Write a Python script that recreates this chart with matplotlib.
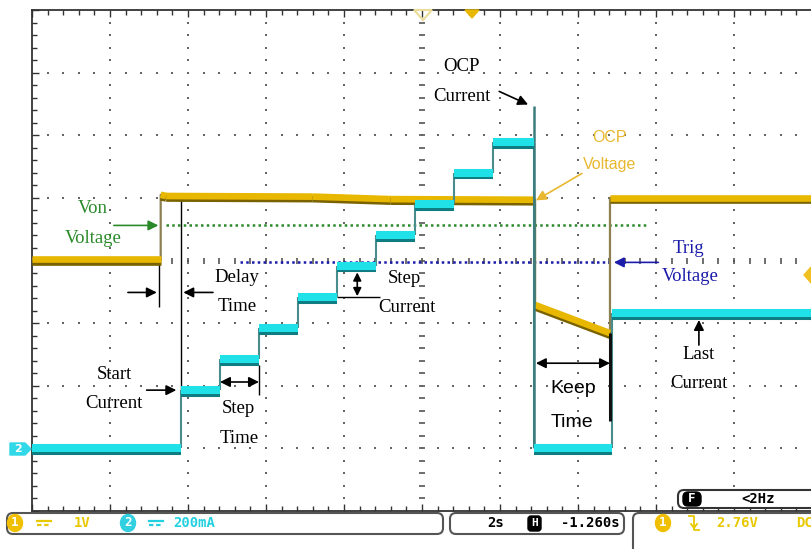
import numpy as np
import matplotlib
matplotlib.use("Agg")
import matplotlib.pyplot as plt
import matplotlib.patheffects as pe
from matplotlib.patches import FancyBboxPatch, Polygon, Ellipse

# Screen is 10 x 8 divisions (2 s/div, CH1 1 V/div, CH2 200 mA/div)
# CH1 voltage trace (divisions)
volt_t = [0, 1.65, 1.65, 1.72, 3.6, 4.6, 6.45, 6.45, 7.41, 7.41, 10]
volt_v = [4.02, 4.02, 5.05, 5.03, 5.02, 4.98, 4.97, 3.29, 2.84, 5.00, 5.00]

# CH2 current trace: level starts and values
step_t = [0, 1.91, 2.41, 2.91, 3.41, 3.91, 4.41, 4.91, 5.41, 5.91, 6.43, 7.44]
step_i = [1.0, 1.93, 2.42, 2.92, 3.41, 3.92, 4.40, 4.90, 5.40, 5.89, 1.0, 3.16]
t_end = 10
ocp_t = 6.43
ocp_peak = 6.46

# dotted reference levels
von_level = 4.56
von_span = [1.72, 7.87]
trig_level = 3.97
trig_span = [2.67, 7.42]

YEL = "#e8b800"
YEL_DK = "#7a6200"
CYN = "#20e0e8"
CYN_DK = "#0e7c80"
GRN = "#2a8a2a"
BLU = "#1c1caa"
GOLD = "#e8b830"

fig = plt.figure(figsize=(8.12, 5.49), dpi=100)
ax = fig.add_axes([32 / 812, 38 / 549, 780 / 812, 501 / 549])
ax.set_xlim(0, 10)
ax.set_ylim(0, 8)
for s in ["left", "top", "bottom"]:
    ax.spines[s].set_color("#333333")
    ax.spines[s].set_linewidth(1.3)
ax.spines["right"].set_visible(False)
ax.set_xticks(np.arange(0, 10.01, 1))
ax.set_xticks(np.arange(0, 10.01, 0.2), minor=True)
ax.set_yticks(np.arange(0, 8.01, 1))
ax.set_yticks(np.arange(0, 8.01, 0.2), minor=True)
ax.tick_params(which="both", direction="in", top=True, bottom=True, left=True, right=False,
               labelbottom=False, labelleft=False, color="#333333", width=1)
ax.tick_params(which="major", length=5)
ax.tick_params(which="minor", length=3.5)

# graticule dots
fine_y = np.arange(0.2, 7.9, 0.2)
fine_x = np.arange(0.2, 9.9, 0.2)
for gx in range(1, 10):
    if gx == 5:
        ax.plot(np.full_like(fine_y, gx), fine_y, ls="none", marker="_", ms=4, mew=1.2, color="#555555")
    else:
        ax.plot(np.full_like(fine_y, gx), fine_y, ls="none", marker="s", ms=1.5, mew=0, color="#666666")
for gy in range(1, 8):
    if gy == 4:
        ax.plot(fine_x, np.full_like(fine_x, gy), ls="none", marker="|", ms=4, mew=1.2, color="#555555")
    else:
        ax.plot(fine_x, np.full_like(fine_x, gy), ls="none", marker="s", ms=1.5, mew=0, color="#666666")

# reference levels
ax.plot(von_span, [von_level, von_level], color=GRN, lw=1.8, ls=(0, (1, 1.3)), zorder=3)
ax.plot(trig_span, [trig_level, trig_level], color=BLU, lw=1.8, ls=(0, (1, 1.3)), zorder=3)

# CH1 voltage
ax.plot(volt_t, volt_v, color="#8c8050", lw=1.6, zorder=4)
shadow = [pe.SimpleLineShadow(offset=(0, -1.8), shadow_color=YEL_DK, alpha=1), pe.Normal()]
for i in range(len(volt_t) - 1):
    if volt_t[i] != volt_t[i + 1]:
        ax.plot(volt_t[i:i + 2], volt_v[i:i + 2], color=YEL, lw=4.8, solid_capstyle="butt",
                path_effects=shadow, zorder=5)

# CH2 current
ends = step_t[1:] + [t_end]
ax.vlines(step_t[1:], step_i[:-1], step_i[1:], color="#4a8c8c", lw=1.5, zorder=6)
ax.vlines(ocp_t, step_i[-3], ocp_peak, color="#3c7c7c", lw=1.8, zorder=6)
ax.vlines(ocp_t, 1.0, step_i[-3], color="#3c7c7c", lw=1.8, zorder=6)
ax.hlines(step_i, step_t, ends, color=CYN, lw=5.8, zorder=7,
          path_effects=[pe.SimpleLineShadow(offset=(0, -1.8), shadow_color=CYN_DK, alpha=1), pe.Normal()])

# black marker lines
ax.vlines(1.63, 3.25, 4.02, color="black", lw=1)
ax.vlines(1.91, 1.93, 5.01, color="black", lw=1)
ax.vlines(2.91, 1.85, 2.33, color="black", lw=1)
ax.hlines(3.41, 3.91, 4.46, color="black", lw=1)
ax.vlines(7.41, 1.43, 2.84, color="#111111", lw=2.2, zorder=6)


def arrow(head, tail, color="black", style="-|>"):
    ax.annotate("", xy=head, xytext=tail,
                arrowprops=dict(arrowstyle=style, color=color, lw=1.2, mutation_scale=15,
                                shrinkA=0, shrinkB=0), zorder=8)


serif = dict(family="Liberation Serif", fontsize=13.5, ha="center", va="center", zorder=9)
sans = dict(family="Liberation Sans", fontsize=14, ha="center", va="center", zorder=9)

ax.text(0.78, 4.83, "Von", color=GRN, **serif)
ax.text(0.78, 4.35, "Voltage", color=GRN, **serif)
arrow((1.62, von_level), (1.05, von_level), GRN)

ax.text(2.63, 3.73, "Delay", color="black", **serif)
ax.text(2.63, 3.27, "Time", color="black", **serif)
arrow((1.60, 3.49), (1.23, 3.49))
arrow((1.94, 3.49), (2.32, 3.49))

ax.text(1.05, 2.18, "Start", color="black", **serif)
ax.text(1.05, 1.72, "Current", color="black", **serif)
arrow((1.85, 1.93), (1.47, 1.93))

ax.text(2.65, 1.64, "Step", color="black", **serif)
ax.text(2.65, 1.16, "Time", color="black", **serif)
arrow((2.41, 2.06), (2.91, 2.06), style="<|-|>")

ax.text(4.78, 3.72, "Step", color="black", **serif)
ax.text(4.81, 3.25, "Current", color="black", **serif)
ax.annotate("", xy=(4.17, 3.81), xytext=(4.17, 3.43),
            arrowprops=dict(arrowstyle="<|-|>", color="black", lw=1.2, mutation_scale=12,
                            shrinkA=0, shrinkB=0), zorder=8)

ax.text(5.51, 7.10, "OCP", color="black", **serif)
ax.text(5.51, 6.62, "Current", color="black", **serif)
arrow((6.36, 6.49), (5.99, 6.70))

ax.text(7.40, 5.96, "OCP", color=GOLD, **dict(sans, fontsize=11.5))
ax.text(7.40, 5.53, "Voltage", color=GOLD, **dict(sans, fontsize=11.5))
arrow((6.46, 4.96), (7.05, 5.39), GOLD)

ax.text(8.42, 4.19, "Trig", color=BLU, **serif)
ax.text(8.44, 3.75, "Voltage", color=BLU, **serif)
arrow((7.46, trig_level), (8.03, trig_level), BLU)

ax.text(6.94, 1.96, "Keep", color="black", **sans)
ax.text(6.92, 1.42, "Time", color="black", **sans)
arrow((6.46, 2.36), (7.41, 2.36), style="<|-|>")

ax.text(8.55, 2.50, "Last", color="black", **serif)
ax.text(8.55, 2.04, "Current", color="black", **serif)
arrow((8.55, 3.05), (8.55, 2.65))

# overlay in pixel units for the scope status bar and markers
ov = fig.add_axes([0, 0, 1, 1], zorder=5)
ov.set_xlim(0, 812)
ov.set_ylim(549, 0)
ov.axis("off")
ov.patch.set_alpha(0)

mono = dict(family="DejaVu Sans Mono", fontsize=10, fontweight="bold", va="center")
SY = "#e8c800"
SC = "#22d0e0"

# CH2 ground tag and markers
ov.add_patch(Polygon([(10, 443), (25, 443), (31, 449), (25, 455), (10, 455)], color="#30d8e8"))
ov.text(18, 449, "2", color="white", ha="center", fontsize=8, fontweight="bold", va="center")
ov.add_patch(Polygon([(414, 10), (432, 10), (423, 20)], closed=True, fill=False, ec="#eadc98", lw=1.5))
ov.add_patch(Polygon([(465, 10), (479, 10), (472, 18)], color="#e8b800"))
ov.add_patch(Polygon([(804, 275), (812, 266), (820, 275), (812, 284)], color="#f0c020"))

# status boxes
for x0, w, h in [(7, 436, 21), (450, 174, 21), (633, 220, 60)]:
    ov.add_patch(FancyBboxPatch((x0, 513), w, h, boxstyle="round,pad=0,rounding_size=6",
                                fc="white", ec="#555555", lw=1.5))
ov.add_patch(FancyBboxPatch((678, 490), 160, 18, boxstyle="round,pad=0,rounding_size=6",
                            fc="white", ec="#333333", lw=1.5))
ov.add_patch(FancyBboxPatch((683, 492), 18, 14, boxstyle="round,pad=0,rounding_size=5",
                            fc="black", ec="black"))
ov.text(692, 499, "F", color="white", ha="center", **dict(mono, fontsize=9))
ov.text(758, 499, "<2Hz", color="black", ha="center", **mono)


def badge(x, y, num, color):
    ov.add_patch(Ellipse((x, y), 15, 17, color=color))
    ov.text(x, y, num, color="white", ha="center", **dict(mono, fontsize=9))


def dc_sign(x, y, color):
    ov.plot([x, x + 14], [y - 2.5, y - 2.5], color=color, lw=1.6)
    ov.plot([x, x + 14], [y + 2, y + 2], color=color, lw=1.6, ls=(0, (2, 1.2)))


badge(15, 523, "1", "#f0c000")
dc_sign(37, 523, SY)
ov.text(82, 523, "1V", color=SY, ha="center", **mono)
badge(128, 523, "2", "#30d0e0")
dc_sign(149, 523, SC)
ov.text(173, 523, "200mA", color=SC, ha="left", **mono)

ov.text(496, 523, "2s", color="black", ha="center", **mono)
ov.add_patch(FancyBboxPatch((528, 516), 13, 15, boxstyle="round,pad=0,rounding_size=3",
                            fc="black", ec="black"))
ov.text(534.5, 523.5, "H", color="white", ha="center", **dict(mono, fontsize=8))
ov.text(590, 523, "-1.260s", color="black", ha="center", **mono)

badge(663, 523, "1", "#f0c000")
ov.plot([689, 694, 694, 699], [516, 516, 530, 530], color=SY, lw=1.3)
ov.plot([691, 694, 697], [524, 528, 524], color=SY, lw=1.3)
ov.text(716, 523, "2.76V", color=SY, ha="left", **mono)
ov.text(796, 523, "DC", color=SY, ha="left", **mono)

fig.savefig("out.png", dpi=100)
